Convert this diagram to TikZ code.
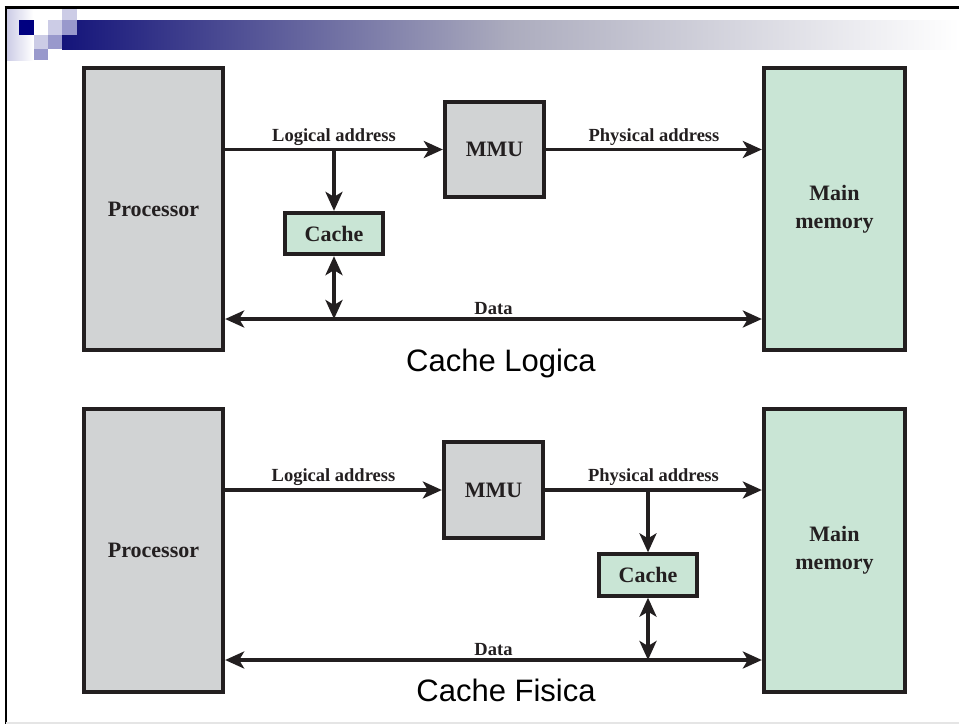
\documentclass[tikz,border=0pt]{standalone}
\usepackage{fontspec}
\setmainfont{Liberation Serif}
\newfontfamily\arialfont{Liberation Sans}
\usepackage{tikz}
\usetikzlibrary{arrows.meta, positioning, calc}

\definecolor{ink}{HTML}{231F20}
\definecolor{procgray}{HTML}{D1D3D4}
\definecolor{memgreen}{HTML}{C9E5D5}
\definecolor{navy}{HTML}{000080}
\definecolor{barnavy}{HTML}{14147A}
\definecolor{lavlight}{HTML}{CCCCE6}
\definecolor{lavmid}{HTML}{9999CC}

\newcommand\diagboxfont{\fontsize{22}{28}\selectfont\bfseries}
\newcommand\diaglabelfont{\fontsize{18.5}{22}\selectfont\bfseries}
\newcommand\diagcapfont{\arialfont\fontsize{31}{36}\selectfont}

\begin{document}
\begin{tikzpicture}[x=1pt, y=-1pt,
    block/.style={draw=ink, line width=3.8pt, inner sep=0pt, text=ink, align=center, font=\diagboxfont},
    arr/.style={draw=ink, line width=3.4pt, -{Stealth[length=19pt, width=17pt, inset=5pt]}},
    darr/.style={draw=ink, line width=3.4pt, {Stealth[length=19pt, width=17pt, inset=5pt]}-{Stealth[length=19pt, width=17pt, inset=5pt]}},
    lbl/.style={text=ink, font=\diaglabelfont, inner sep=2.5pt}]
        \useasboundingbox (0,0) rectangle (959,724);
        \fill[white] (0,0) rectangle (959,724);
        % slide header
        \shade[left color=lavlight, right color=white] (7,9) rectangle (33,60);
        \shade[left color=barnavy, right color=white, middle color={rgb,255:red,172;green,172;blue,190}] (62,20) rectangle (959,49);
        \fill[navy] (19,20) rectangle (34,35);
        \fill[lavlight] (48,20) rectangle (62,35);
        \fill[lavmid] (62,20) rectangle (77,35);
        \fill[lavlight] (62,9) rectangle (77,20);
        \fill[lavlight] (34,35) rectangle (48,49);
        \fill[lavmid] (48,35) rectangle (62,49);
        \fill[lavmid] (34,49) rectangle (48,60);
        \draw[black, line width=3pt] (4.5,7.5) -- (959,7.5);
        \draw[black, line width=2.5pt] (6,6) -- (6,724);
        \draw[black!10, line width=1.5pt] (6,723.2) -- (959,723.2);

        % logical cache
        \node[block, fill=procgray, minimum width=139.5pt, minimum height=282.5pt] (proc1) at (153.5,209) {Processor};
        \node[block, fill=procgray, minimum width=99.5pt, minimum height=95.5pt] (mmu1) at (494.5,149.5) {MMU};
        \node[block, fill=memgreen, minimum width=98.5pt, minimum height=41.5pt] (cache1) at (334,233.5) {Cache};
        \node[block, fill=memgreen, minimum width=141.5pt, minimum height=282.5pt] (mem1) at (834.5,209) {Main\\memory};
        \coordinate (br1) at (cache1.north |- mmu1.west);
        \coordinate (d1) at (cache1.south |- 0,319);
        \draw[arr] (mmu1.west -| proc1.east) -- (mmu1.west) node[lbl, midway, above] (la1) {Logical address};
        \draw[arr] (mmu1.east) -- (mmu1.east -| mem1.west) node[lbl, midway, above] (pa1) {Physical address};
        \draw[arr] (br1) -- (cache1.north);
        \draw[darr] (d1 -| proc1.east) -- (d1 -| mem1.west) node[lbl, midway, above] (da1) {Data};
        \draw[darr] (cache1.south) -- (d1);
        \node[font=\diagcapfont, text=black] (cap1) at (501,363) {Cache Logica};

        % physical cache
        \node[block, fill=procgray, minimum width=139.5pt, minimum height=282.5pt] (proc2) at (153.5,550.5) {Processor};
        \node[block, fill=procgray, minimum width=99.5pt, minimum height=95.5pt] (mmu2) at (493.5,490) {MMU};
        \node[block, fill=memgreen, minimum width=98.5pt, minimum height=41.5pt] (cache2) at (648,575) {Cache};
        \node[block, fill=memgreen, minimum width=141.5pt, minimum height=282.5pt] (mem2) at (834.5,550.5) {Main\\memory};
        \coordinate (br2) at (cache2.north |- mmu2.east);
        \coordinate (d2) at (cache2.south |- 0,660);
        \draw[arr] (mmu2.west -| proc2.east) -- (mmu2.west) node[lbl, midway, above] (la2) {Logical address};
        \draw[arr] (mmu2.east) -- (mmu2.east -| mem2.west) node[lbl, midway, above] (pa2) {Physical address};
        \draw[arr] (br2) -- (cache2.north);
        \draw[darr] (d2 -| proc2.east) -- (d2 -| mem2.west) node[lbl, midway, above] (da2) {Data};
        \draw[darr] (cache2.south) -- (d2);
        \node[font=\diagcapfont, text=black] (cap2) at (506,690) {Cache Fisica};
    \end{tikzpicture}
\end{document}
